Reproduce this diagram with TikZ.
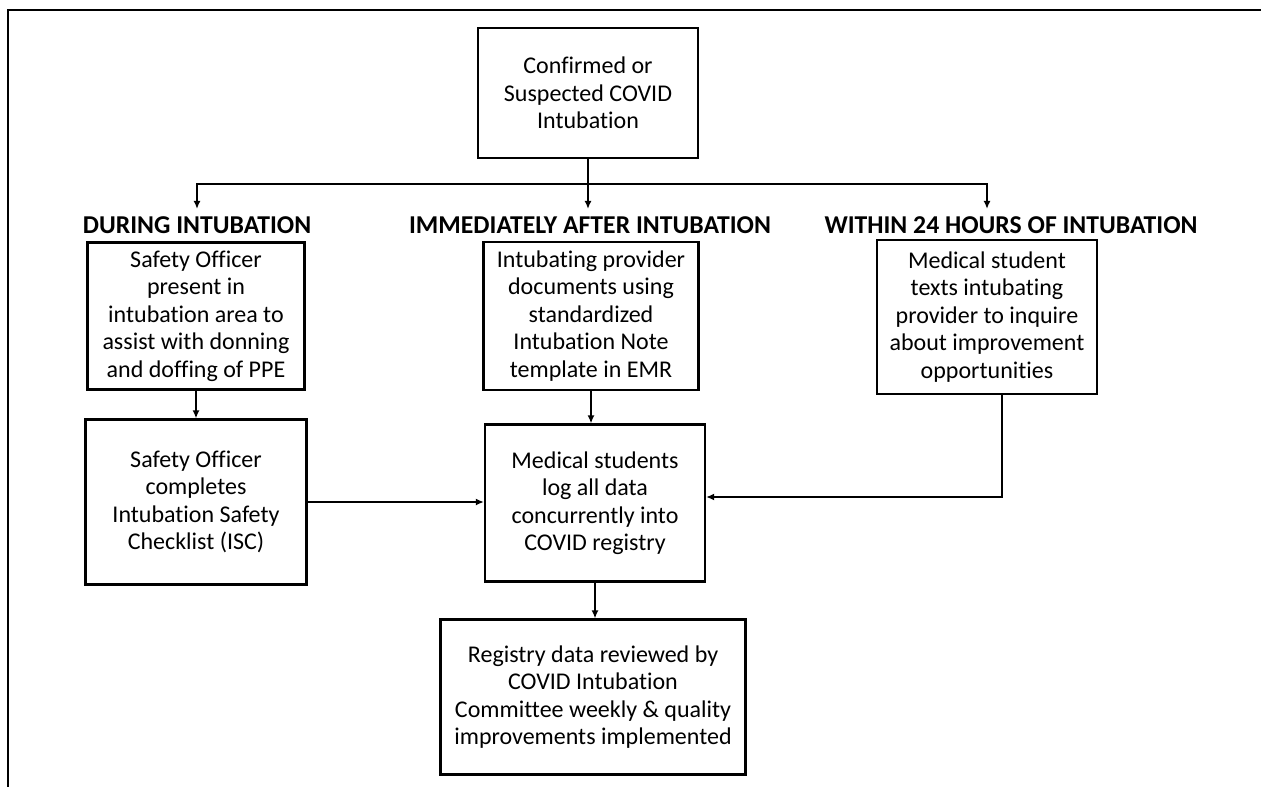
\documentclass[tikz,border=0pt]{standalone}
\usepackage{fontspec}
\setmainfont{Carlito}[Ligatures=NoCommon]
\usetikzlibrary{arrows.meta,positioning}

\begin{document}
\begin{tikzpicture}[x=1pt,y=-1pt,
        box/.style={rectangle,draw,line width=2.2pt,align=center,inner sep=0pt,
          font=\fontsize{24}{27.5}\selectfont},
        phase/.style={anchor=base,inner xsep=0pt,inner ysep=7pt,
          font=\bfseries\fontsize{25.7}{29}\selectfont},
        arrow/.style={-{Latex[length=8pt,width=7pt]},line width=1.8pt}]
        \useasboundingbox (0,0) rectangle (1261,787);
        \draw[line width=2pt] (8,787) -- (8,10) -- (1261,10);
        \node[box,minimum width=220pt,minimum height=130pt] (start) at (588,93)
          {Confirmed or\\Suspected COVID\\Intubation};
        \coordinate (split) at (588,184);
        \node[phase] (h1) at (197,233) {DURING INTUBATION};
        \node[phase] (h2) at (590,233) {IMMEDIATELY AFTER INTUBATION};
        \node[phase] (h3) at (1011,233) {WITHIN 24 HOURS OF INTUBATION};
        \node[box,minimum width=217pt,minimum height=147pt] (l1) at (196,316)
          {Safety Officer\\present in\\intubation area to\\assist with donning\\and doffing of PPE};
        \node[box,minimum width=221pt,minimum height=165pt] (l2) at (196,502)
          {Safety Officer\\completes\\Intubation Safety\\Checklist (ISC)};
        \node[box,minimum width=215pt,minimum height=148pt] (m1) at (591,316)
          {Intubating provider\\documents using\\standardized\\Intubation Note\\template in EMR};
        \node[box,minimum width=220pt,minimum height=157pt] (m2) at (595,503)
          {Medical students\\log all data\\concurrently into\\COVID registry};
        \node[box,minimum width=220pt,minimum height=154pt] (r1) at (987,317)
          {Medical student\\texts intubating\\provider to inquire\\about improvement\\opportunities};
        \node[box,minimum width=305pt,minimum height=155pt] (m3) at (593,697)
          {Registry data reviewed by\\COVID Intubation\\Committee weekly \& quality\\improvements implemented};
        \draw[line width=1.8pt] (start) -- (split);
        \draw[arrow] (split) -| (h1.north);
        \draw[arrow] (split) -- (split |- h2.north);
        \draw[arrow] (split) -| (r1.north |- h3.north);
        \draw[arrow] (l1) -- (l2);
        \draw[arrow] (m1.south) -- (m1.south |- m2.north);
        \draw[arrow] (l2.east) -- (l2.east -| m2.west);
        \draw[arrow] ([xshift=15pt]r1.south) |- ([yshift=6pt]m2.east);
        \draw[arrow] (m2) -- (m2 |- m3.north);
      \end{tikzpicture}
\end{document}
